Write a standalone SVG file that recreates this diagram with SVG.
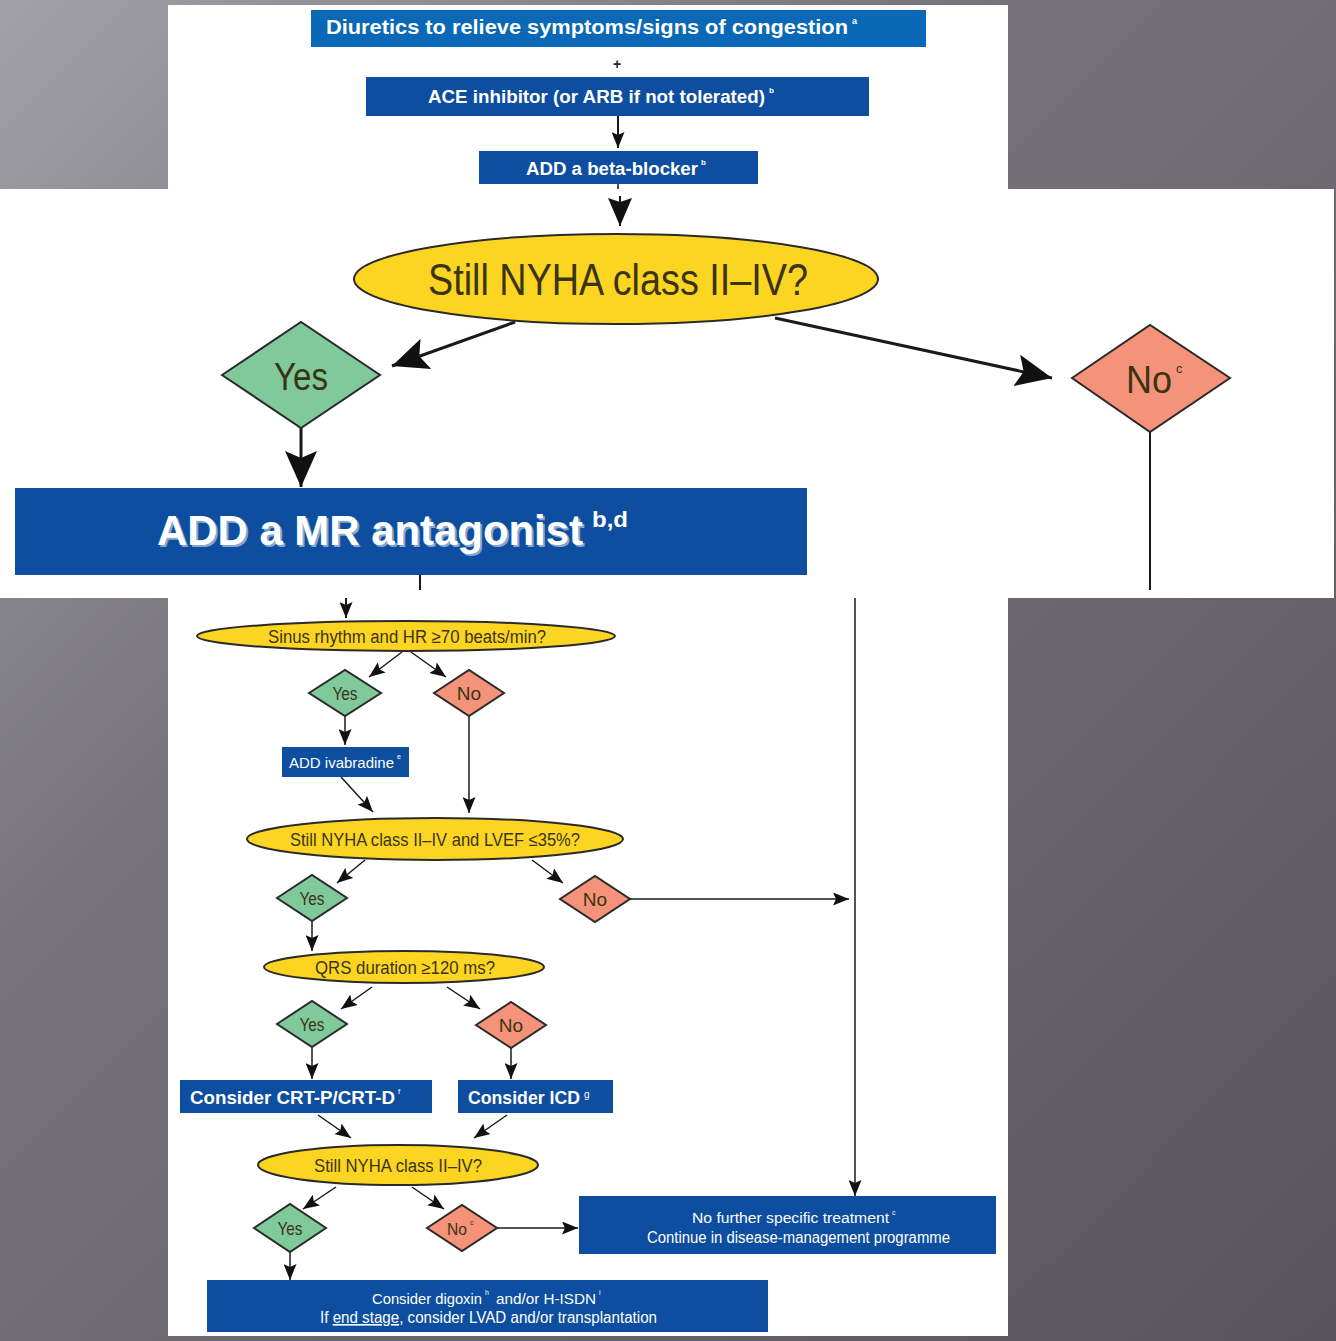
<svg xmlns="http://www.w3.org/2000/svg" width="1336" height="1341" viewBox="0 0 1336 1341">
<defs>
<linearGradient id="bg" x1="0" y1="0" x2="1" y2="1">
<stop offset="0" stop-color="#a3a1a8"/>
<stop offset="0.35" stop-color="#77757b"/>
<stop offset="1" stop-color="#57555b"/>
</linearGradient>
<marker id="big" viewBox="0 0 36 32" markerWidth="36" markerHeight="32" refX="36" refY="16" orient="auto" markerUnits="userSpaceOnUse">
<path d="M0,0 L36,16 L0,32 L7,16 z" fill="#111"/>
</marker>
<marker id="mid" viewBox="0 0 28 24" markerWidth="28" markerHeight="24" refX="28" refY="12" orient="auto" markerUnits="userSpaceOnUse">
<path d="M0,0 L28,12 L0,24 L4,12 z" fill="#111"/>
</marker>
<marker id="sm" viewBox="0 0 16 13" markerWidth="16" markerHeight="13" refX="16" refY="6.5" orient="auto" markerUnits="userSpaceOnUse">
<path d="M0,0 L16,6.5 L0,13 L3,6.5 z" fill="#111"/>
</marker>
<style>
.box{fill:#0d4ea0}
.box2{fill:#0a68b6}
.ell{fill:#fcd422;stroke:#2a2a2a;stroke-width:2}
.yes{fill:#80c99a;stroke:#2a2a2a;stroke-width:2}
.no{fill:#f4937a;stroke:#2a2a2a;stroke-width:2}
.wt{font-family:"Liberation Sans",Arial,sans-serif;fill:#fff}
.bt{font-weight:bold}
.dt{font-family:"Liberation Sans",Arial,sans-serif;fill:#3a3413}
.ln{stroke:#1a1a1a;fill:none}
</style>
</defs>
<rect x="0" y="0" width="1336" height="1341" fill="url(#bg)"/>
<rect x="168" y="5" width="840" height="184" fill="#fff"/>
<rect x="0" y="189" width="1334" height="409" fill="#fff"/>
<rect x="168" y="598" width="840" height="738" fill="#fff"/>

<g id="connectors">
<line class="ln" x1="618" y1="116" x2="618" y2="148" stroke-width="2" marker-end="url(#sm)"/>
<line class="ln" x1="618" y1="184" x2="618" y2="189" stroke-width="1.5"/>
<line class="ln" x1="620" y1="196" x2="620" y2="226" stroke-width="2" marker-end="url(#mid)"/>
<line class="ln" x1="515" y1="322" x2="392" y2="366" stroke-width="3" marker-end="url(#big)"/>
<line class="ln" x1="775" y1="318" x2="1052" y2="378" stroke-width="3" marker-end="url(#big)"/>
<line class="ln" x1="301" y1="428" x2="301" y2="487" stroke-width="3" marker-end="url(#big)"/>
<line class="ln" x1="1150" y1="432" x2="1150" y2="590" stroke-width="2"/>
<line class="ln" x1="420" y1="575" x2="420" y2="590" stroke-width="2"/>
<line class="ln" x1="346" y1="598" x2="346" y2="618" stroke-width="2" marker-end="url(#sm)"/>
<line class="ln" x1="402" y1="652" x2="369" y2="677" stroke-width="1.5" marker-end="url(#sm)"/>
<line class="ln" x1="411" y1="652" x2="446" y2="677" stroke-width="1.5" marker-end="url(#sm)"/>
<line class="ln" x1="345" y1="716" x2="345" y2="745" stroke-width="1.5" marker-end="url(#sm)"/>
<line class="ln" x1="341" y1="777" x2="373" y2="812" stroke-width="1.5" marker-end="url(#sm)"/>
<line class="ln" x1="469" y1="716" x2="469" y2="813" stroke-width="1.5" marker-end="url(#sm)"/>
<line class="ln" x1="365" y1="860" x2="337" y2="883" stroke-width="1.5" marker-end="url(#sm)"/>
<line class="ln" x1="532" y1="860" x2="563" y2="883" stroke-width="1.5" marker-end="url(#sm)"/>
<line class="ln" x1="630" y1="899" x2="849" y2="899" stroke-width="1.5" marker-end="url(#sm)"/>
<line class="ln" x1="312" y1="921" x2="312" y2="951" stroke-width="1.5" marker-end="url(#sm)"/>
<line class="ln" x1="372" y1="987" x2="341" y2="1009" stroke-width="1.5" marker-end="url(#sm)"/>
<line class="ln" x1="447" y1="987" x2="480" y2="1009" stroke-width="1.5" marker-end="url(#sm)"/>
<line class="ln" x1="312" y1="1047" x2="312" y2="1079" stroke-width="1.5" marker-end="url(#sm)"/>
<line class="ln" x1="511" y1="1048" x2="511" y2="1079" stroke-width="1.5" marker-end="url(#sm)"/>
<line class="ln" x1="318" y1="1115" x2="351" y2="1138" stroke-width="1.5" marker-end="url(#sm)"/>
<line class="ln" x1="507" y1="1115" x2="474" y2="1138" stroke-width="1.5" marker-end="url(#sm)"/>
<line class="ln" x1="336" y1="1187" x2="303" y2="1209" stroke-width="1.5" marker-end="url(#sm)"/>
<line class="ln" x1="412" y1="1187" x2="444" y2="1209" stroke-width="1.5" marker-end="url(#sm)"/>
<line class="ln" x1="497" y1="1228" x2="578" y2="1228" stroke-width="1.5" marker-end="url(#sm)"/>
<line class="ln" x1="855" y1="598" x2="855" y2="1196" stroke-width="1.5" marker-end="url(#sm)"/>
<line class="ln" x1="290" y1="1252" x2="290" y2="1280" stroke-width="1.5" marker-end="url(#sm)"/>
</g>

<g id="n-diuretics">
<rect class="box2" x="311" y="10" width="615" height="37"/>
<text class="wt bt" x="326" y="34" font-size="20" textLength="522" lengthAdjust="spacingAndGlyphs">Diuretics to relieve symptoms/signs of congestion</text>
<text class="wt bt" x="852" y="24" font-size="9">a</text>
</g>
<g id="n-plus">
<text x="617" y="69" font-size="14" font-weight="bold" text-anchor="middle" font-family="Liberation Sans,Arial,sans-serif" fill="#222">+</text>
</g>
<g id="n-ace">
<rect class="box" x="366" y="77" width="503" height="39"/>
<text class="wt bt" x="428" y="103" font-size="18" textLength="337" lengthAdjust="spacingAndGlyphs">ACE inhibitor (or ARB if not tolerated)</text>
<text class="wt bt" x="769" y="93" font-size="8">b</text>
</g>
<g id="n-bb">
<rect class="box" x="479" y="151" width="279" height="33"/>
<text class="wt bt" x="526" y="175" font-size="18" textLength="172" lengthAdjust="spacingAndGlyphs">ADD a beta-blocker</text>
<text class="wt bt" x="701" y="165" font-size="8">b</text>
</g>
<g id="n-nyha1">
<ellipse class="ell" cx="616" cy="279" rx="262" ry="45" stroke-width="3"/>
<text class="dt" x="428" y="295" font-size="44" textLength="380" lengthAdjust="spacingAndGlyphs">Still NYHA class II–IV?</text>
</g>
<g id="n-yes1">
<polygon class="yes" points="222,375 301,322 380,375 301,428" stroke-width="3"/>
<text class="dt" x="301" y="390" font-size="38" text-anchor="middle" textLength="54" lengthAdjust="spacingAndGlyphs" fill="#2c3a2c">Yes</text>
</g>
<g id="n-no1">
<polygon class="no" points="1072,378 1150,325 1230,378 1150,432" stroke-width="3"/>
<text class="dt" x="1126" y="393" font-size="38" textLength="46" lengthAdjust="spacingAndGlyphs">No</text>
<text class="dt" x="1176" y="373" font-size="13">c</text>
</g>
<g id="n-mr">
<rect class="box" x="15" y="488" width="792" height="87"/>
<text class="wt bt" x="159" y="547" font-size="42" fill="#333" opacity="0.5" textLength="426" lengthAdjust="spacingAndGlyphs">ADD a MR antagonist</text>
<text class="wt bt" x="157" y="545" font-size="42" textLength="426" lengthAdjust="spacingAndGlyphs">ADD a MR antagonist</text>
<text class="wt bt" x="592" y="527" font-size="22" textLength="36" lengthAdjust="spacingAndGlyphs">b,d</text>
</g>
<g id="n-sinus">
<ellipse class="ell" cx="406" cy="636" rx="209" ry="15" stroke-width="1.5"/>
<text class="dt" x="268" y="643" font-size="18" textLength="278" lengthAdjust="spacingAndGlyphs">Sinus rhythm and HR ≥70 beats/min?</text>
</g>
<g id="n-yes2">
<polygon class="yes" points="309,693 345,670 381,693 345,716" stroke-width="1.5"/>
<text class="dt" x="345" y="700" font-size="18" text-anchor="middle" textLength="25" lengthAdjust="spacingAndGlyphs">Yes</text>
</g>
<g id="n-no2">
<polygon class="no" points="434,693 469,670 504,693 469,716" stroke-width="1.5"/>
<text class="dt" x="469" y="700" font-size="19" text-anchor="middle">No</text>
</g>
<g id="n-ivab">
<rect class="box" x="282" y="747" width="127" height="30"/>
<text class="wt" x="289" y="768" font-size="15" textLength="105" lengthAdjust="spacingAndGlyphs">ADD ivabradine</text>
<text class="wt" x="397" y="759" font-size="7">e</text>
</g>
<g id="n-lvef">
<ellipse class="ell" cx="435" cy="839" rx="188" ry="21" stroke-width="1.5"/>
<text class="dt" x="290" y="846" font-size="18" textLength="290" lengthAdjust="spacingAndGlyphs">Still NYHA class II–IV and LVEF ≤35%?</text>
</g>
<g id="n-yes3">
<polygon class="yes" points="277,898 312,875 347,898 312,921" stroke-width="1.5"/>
<text class="dt" x="312" y="905" font-size="18" text-anchor="middle" textLength="25" lengthAdjust="spacingAndGlyphs">Yes</text>
</g>
<g id="n-no3">
<polygon class="no" points="560,899 595,876 630,899 595,922" stroke-width="1.5"/>
<text class="dt" x="595" y="906" font-size="19" text-anchor="middle">No</text>
</g>
<g id="n-qrs">
<ellipse class="ell" cx="404" cy="967" rx="140" ry="16" stroke-width="1.5"/>
<text class="dt" x="315" y="974" font-size="18" textLength="180" lengthAdjust="spacingAndGlyphs">QRS duration ≥120 ms?</text>
</g>
<g id="n-yes4">
<polygon class="yes" points="277,1024 312,1001 347,1024 312,1047" stroke-width="1.5"/>
<text class="dt" x="312" y="1031" font-size="18" text-anchor="middle" textLength="25" lengthAdjust="spacingAndGlyphs">Yes</text>
</g>
<g id="n-no4">
<polygon class="no" points="476,1025 511,1002 546,1025 511,1048" stroke-width="1.5"/>
<text class="dt" x="511" y="1032" font-size="19" text-anchor="middle">No</text>
</g>
<g id="n-crt">
<rect class="box" x="180" y="1080" width="252" height="33"/>
<text class="wt bt" x="190" y="1104" font-size="18.5" textLength="205" lengthAdjust="spacingAndGlyphs">Consider CRT-P/CRT-D</text>
<text class="wt" x="398" y="1094" font-size="8">f</text>
</g>
<g id="n-icd">
<rect class="box" x="458" y="1080" width="155" height="33"/>
<text class="wt bt" x="468" y="1104" font-size="17.5" textLength="112" lengthAdjust="spacingAndGlyphs">Consider ICD</text>
<text class="wt" x="584" y="1098" font-size="10">g</text>
</g>
<g id="n-nyha3">
<ellipse class="ell" cx="398" cy="1165" rx="140" ry="20" stroke-width="1.5"/>
<text class="dt" x="314" y="1172" font-size="18" textLength="168" lengthAdjust="spacingAndGlyphs">Still NYHA class II–IV?</text>
</g>
<g id="n-yes5">
<polygon class="yes" points="254,1228 290,1204 326,1228 290,1252" stroke-width="1.5"/>
<text class="dt" x="290" y="1235" font-size="18" text-anchor="middle" textLength="25" lengthAdjust="spacingAndGlyphs">Yes</text>
</g>
<g id="n-no5">
<polygon class="no" points="427,1228 462,1205 497,1228 462,1251" stroke-width="1.5"/>
<text class="dt" x="447" y="1235" font-size="16" textLength="20" lengthAdjust="spacingAndGlyphs">No</text>
<text class="dt" x="470" y="1225" font-size="7">c</text>
</g>
<g id="n-nofurther">
<rect class="box" x="579" y="1196" width="417" height="58"/>
<text class="wt" x="692" y="1223" font-size="15.5" textLength="197" lengthAdjust="spacingAndGlyphs">No further specific treatment</text>
<text class="wt" x="892" y="1215" font-size="7">c</text>
<text class="wt" x="647" y="1243" font-size="16" textLength="303" lengthAdjust="spacingAndGlyphs">Continue in disease-management programme</text>
</g>
<g id="n-digoxin">
<rect class="box" x="207" y="1280" width="561" height="52"/>
<text class="wt" x="372" y="1304" font-size="14.5" textLength="110" lengthAdjust="spacingAndGlyphs">Consider digoxin</text>
<text class="wt" x="485" y="1295" font-size="7">h</text>
<text class="wt" x="496" y="1304" font-size="15" textLength="100" lengthAdjust="spacingAndGlyphs">and/or H-ISDN</text>
<text class="wt" x="599" y="1295" font-size="7">i</text>
<text class="wt" x="320" y="1323" font-size="16" textLength="337" lengthAdjust="spacingAndGlyphs">If <tspan text-decoration="underline">end stage</tspan>, consider LVAD and/or transplantation</text>
</g>
</svg>
